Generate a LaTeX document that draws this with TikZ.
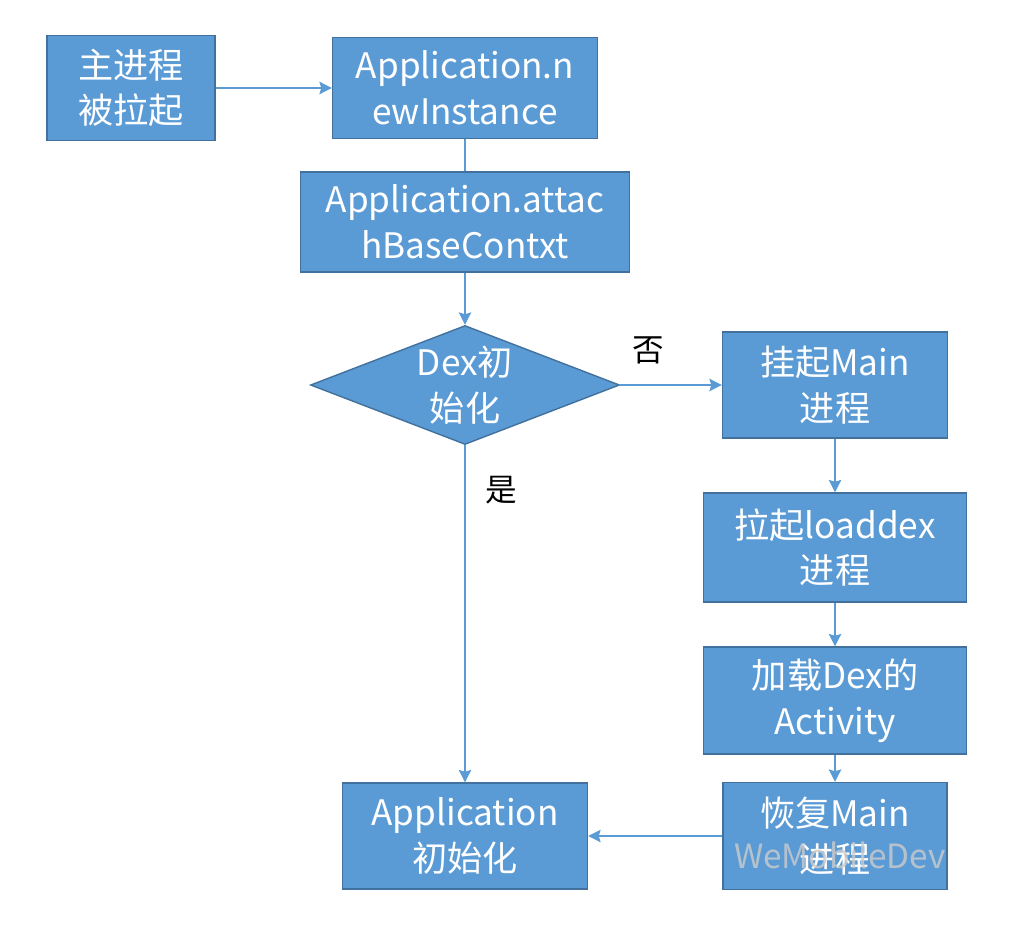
\documentclass[tikz,border=0pt]{standalone}
\usepackage{fontspec}
\setmainfont{Noto Sans CJK SC}
\usepackage{tikz}
\usetikzlibrary{shapes.geometric,arrows.meta}
\definecolor{boxblue}{HTML}{5B9BD5}
\definecolor{boxedge}{HTML}{41719C}
\tikzstyle{block} = [draw=boxedge, fill=boxblue, line width=0.8pt, rectangle, text=white, align=center, inner sep=0pt, font=\fontsize{20}{26}\selectfont]
\tikzstyle{decision} = [draw=boxedge, fill=boxblue, line width=0.8pt, diamond, aspect=2.6, text=white, align=center, inner sep=0pt, font=\fontsize{20}{26}\selectfont]
\tikzstyle{line} = [draw=boxblue, line width=1.2pt]
\tikzstyle{answer} = [font=\fontsize{18}{22}\selectfont]

\begin{document}
\begin{tikzpicture}[auto, node distance=2cm, >={Stealth[length=7pt,width=7pt,inset=1pt]}]
		\useasboundingbox (0,0) rectangle (20.56,-18.68);
		\node [block, minimum width=3.36cm, minimum height=2.10cm] (start) at (2.62,-1.76) {主进程\\被拉起};
		\node [block, right of=start, node distance=6.68cm, minimum width=5.30cm, minimum height=2.02cm] (newinst) {Application.n\\ewInstance};
		\node [block, below of=newinst, node distance=2.68cm, minimum width=6.58cm, minimum height=2.00cm] (attach) {Application.attac\\hBaseContxt};
		\node [decision, below of=attach, node distance=3.26cm, minimum width=6.18cm, minimum height=2.38cm] (dexinit) {Dex初\\始化};
		\node [block, right of=dexinit, node distance=7.40cm, minimum width=4.50cm, minimum height=2.12cm] (suspend) {挂起Main\\进程};
		\node [block, below of=suspend, node distance=3.25cm, minimum width=5.26cm, minimum height=2.18cm] (loaddex) {拉起loaddex\\进程};
		\node [block, below of=loaddex, node distance=3.06cm, minimum width=5.26cm, minimum height=2.14cm] (loadact) {加载Dex的\\Activity};
		\node [block, below of=loadact, node distance=2.71cm, minimum width=4.48cm, minimum height=2.14cm] (resume) {恢复Main\\进程};
		\node [block, left of=resume, node distance=7.40cm, minimum width=4.90cm, minimum height=2.12cm] (appinit) {Application\\初始化};

		\draw [line, ->] (start) -- (newinst);
		\draw [line] (newinst) -- (attach);
		\draw [line, ->] (attach) -- (dexinit);
		\draw [line, ->] (dexinit) -- (suspend);
		\draw [line, ->] (dexinit) -- (appinit);
		\draw [line, ->] (suspend) -- (loaddex);
		\draw [line, ->] (loaddex) -- (loadact);
		\draw [line, ->] (loadact) -- (resume);
		\draw [line, ->] (resume) -- (appinit);

		\node [answer] (no) at (12.96,-7.0) {否};
		\node [answer] (yes) at (10.02,-9.8) {是};
		\node [text=gray!40, opacity=0.8, font=\fontsize{19}{22}\selectfont] (mark) at (16.8,-17.1) {WeMobileDev};
	\end{tikzpicture}
\end{document}
